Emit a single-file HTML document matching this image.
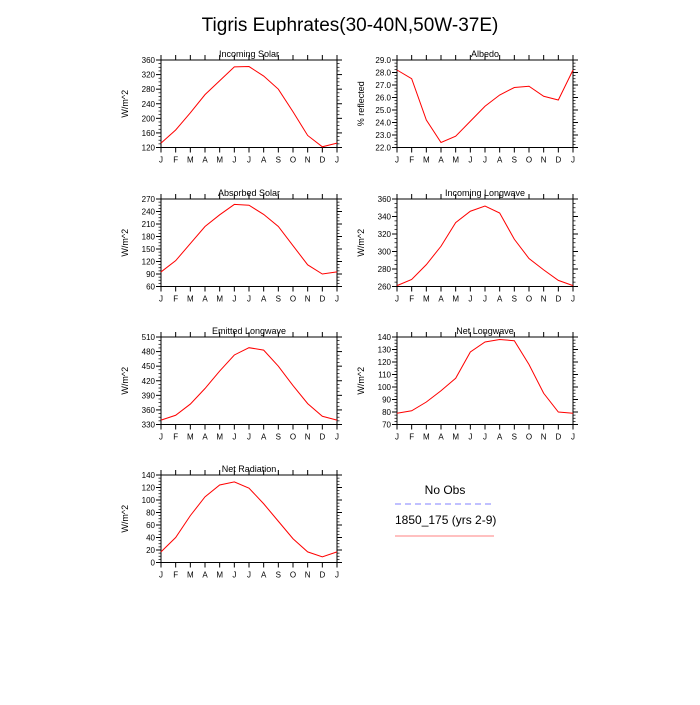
<!DOCTYPE html>
<html><head><meta charset="utf-8"><style>
body{margin:0;background:#fff;font-family:"Liberation Sans",sans-serif}
</style></head><body>
<svg id="c" width="700" height="700" xmlns="http://www.w3.org/2000/svg">
<text x="350" y="31" text-anchor="middle" font-size="19">Tigris Euphrates(30-40N,50W-37E)</text>
<g>
<text x="445" y="494" text-anchor="middle" font-size="12">No Obs</text>
<line x1="395" y1="504" x2="494" y2="504" stroke="#8080ff" stroke-width="1" stroke-dasharray="6,4"/>
<text x="395" y="524" font-size="12">1850_175 (yrs 2-9)</text>
<line x1="395" y1="536" x2="494" y2="536" stroke="#ff8080" stroke-width="1"/>
</g>
</svg>
<script>
const months = ["J","F","M","A","M","J","J","A","S","O","N","D","J"];
const incomingSolar = [132,168,215,265,303,341,342,316,280,218,153,122,132];
const albedo = [28.2,27.5,24.2,22.4,22.9,24.1,25.3,26.2,26.8,26.9,26.1,25.8,28.2];
const absorbedSolar = [95,122,163,204,232,257,255,233,204,158,112,90,95];
const incomingLW = [261,268,285,306,333,346,352,344,314,292,279,267,261];
const emittedLW = [339,349,372,404,440,473,488,483,450,410,373,347,339];
const netLW = [79,81,88,97,107,128,136,138,137,118,95,80,79];
const netRad = [17,40,75,105,124,129,119,94,66,38,17,9,17];
const ticksIS = [120,160,200,240,280,320,360];
const ticksAL = [22,23,24,25,26,27,28,29];
const ticksAS = [60,90,120,150,180,210,240,270];
const ticksILW = [260,280,300,320,340,360];
const ticksELW = [330,360,390,420,450,480,510];
const ticksNLW = [70,80,90,100,110,120,130,140];
const ticksNR = [0,20,40,60,80,100,120,140];

const svg=document.getElementById('c');
const NS='http://www.w3.org/2000/svg';
function mk(t,a,p){const e=document.createElementNS(NS,t);for(const k in a)e.setAttribute(k,a[k]);(p||svg).appendChild(e);return e;}
function panel(name,title,ylab,x0,y0,vals,ticks,dec){
  const W=176,H=87.5;
  const g=mk('g',{});
  
  
  const ymin=ticks[0],ymax=ticks[ticks.length-1];
  const sx=i=>x0+i*W/12, sy=v=>y0+H-(v-ymin)/(ymax-ymin)*H;
  const fr=mk('rect',{x:x0,y:y0,width:W,height:H,fill:'none',stroke:'#000','stroke-width':1},g);
  
  
  const t=mk('text',{x:x0+W/2,y:y0-3,'text-anchor':'middle','font-size':9},g);t.textContent=title;
  
  
  const yl=mk('text',{x:0,y:0,'text-anchor':'middle','font-size':9,transform:`translate(${x0-33},${y0+H/2}) rotate(-90)`},g);yl.textContent=ylab;
  
  
  months.forEach((m,i)=>{const x=sx(i);
    mk('line',{x1:x,x2:x,y1:y0+H,y2:y0+H+5,stroke:'#000'},g);
    mk('line',{x1:x,x2:x,y1:y0,y2:y0-5,stroke:'#000'},g);
    const l=mk('text',{x:x,y:y0+H+15,'text-anchor':'middle','font-size':8},g);l.textContent=m;
    
    
  });
  ticks.forEach((v,i)=>{const y=sy(v);
    mk('line',{x1:x0-5,x2:x0,y1:y,y2:y,stroke:'#000'},g);
    mk('line',{x1:x0+W,x2:x0+W+5,y1:y,y2:y,stroke:'#000'},g);
    if(i<ticks.length-1){for(let k=1;k<4;k++){const ym=sy(v+(ticks[1]-ticks[0])*k/4);
      mk('line',{x1:x0-2.5,x2:x0,y1:ym,y2:ym,stroke:'#000','stroke-width':0.7},g);
      mk('line',{x1:x0+W,x2:x0+W+2.5,y1:ym,y2:ym,stroke:'#000','stroke-width':0.7},g);}}
    const l=mk('text',{x:x0-6,y:y+3,'text-anchor':'end','font-size':8},g);l.textContent=v.toFixed(dec);
    
    
  });
  const ln=mk('polyline',{points:vals.map((v,i)=>sx(i)+','+sy(v)).join(' '),fill:'none',stroke:'#ff0000','stroke-width':1},g);
  
  
}
panel('incoming-solar','Incoming Solar','W/m^2',161,60,incomingSolar,ticksIS,0);
panel('albedo','Albedo','% reflected',397,60,albedo,ticksAL,1);
panel('absorbed-solar','Absorbed Solar','W/m^2',161,199,absorbedSolar,ticksAS,0);
panel('incoming-longwave','Incoming Longwave','W/m^2',397,199,incomingLW,ticksILW,0);
panel('emitted-longwave','Emitted Longwave','W/m^2',161,337,emittedLW,ticksELW,0);
panel('net-longwave','Net Longwave','W/m^2',397,337,netLW,ticksNLW,0);
panel('net-radiation','Net Radiation','W/m^2',161,475,netRad,ticksNR,0);
</script>
</body></html>
